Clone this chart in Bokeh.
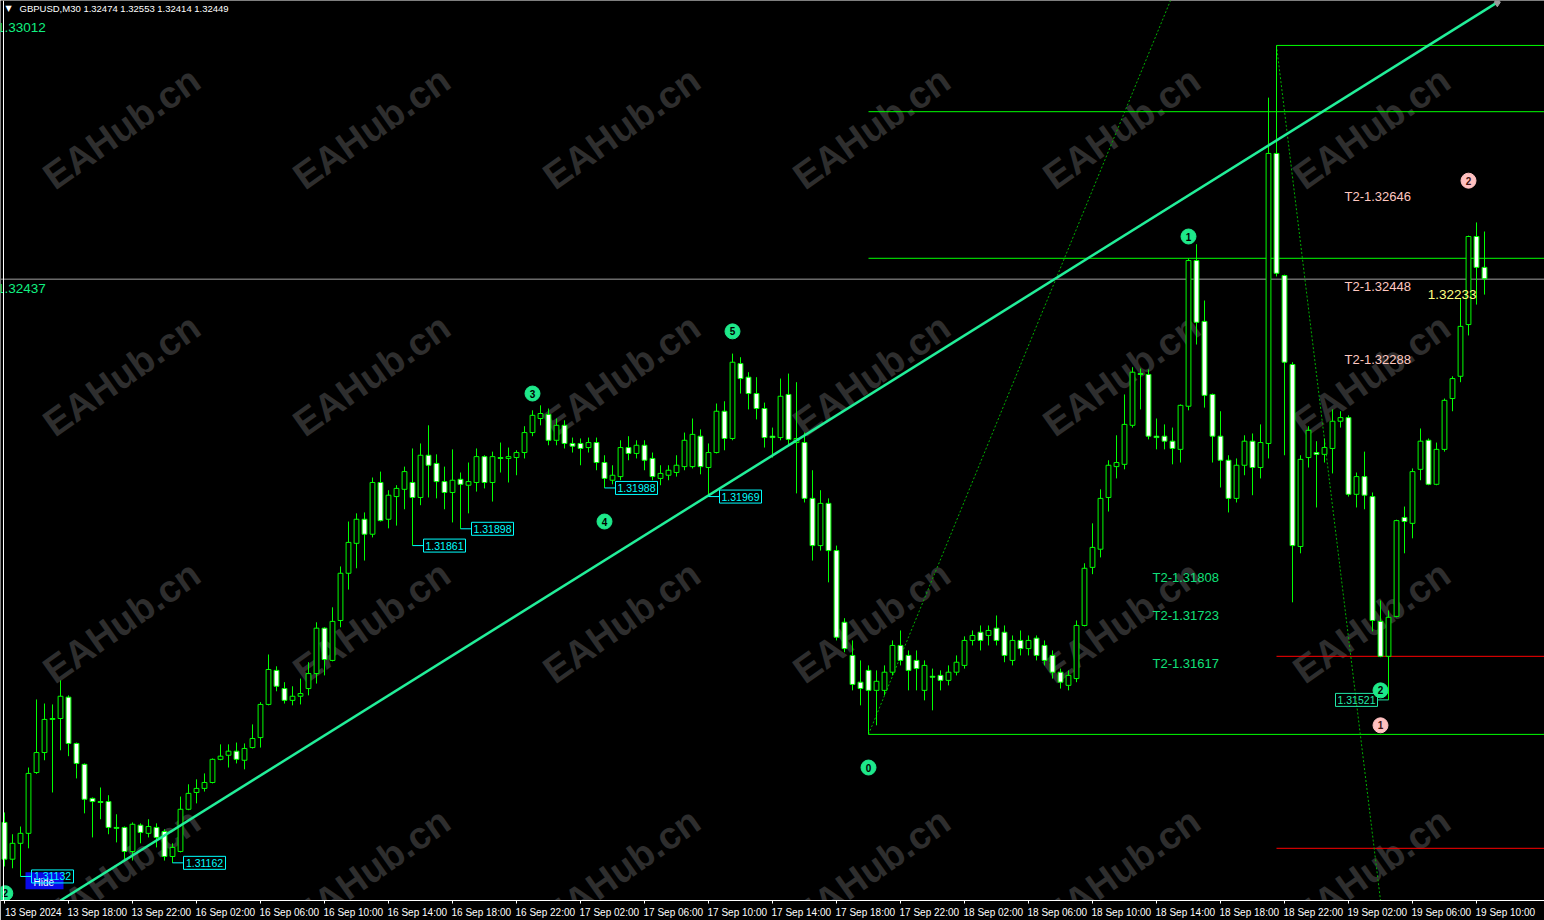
import numpy as np
from bokeh.plotting import figure
from bokeh.models import Range1d, FixedTicker, Span
from bokeh.core.properties import value
from bokeh.embed import file_html
from bokeh.resources import INLINE

# ---------------- data (GBPUSD M30) ----------------
opens = [1.31251, 1.31170, 1.31205, 1.31227, 1.31361, 1.31405, 1.31478, 1.31480, 1.31527, 1.31425,
         1.31379, 1.31304, 1.31297, 1.31297, 1.31240, 1.31240, 1.31187, 1.31245, 1.31227, 1.31240,
         1.31231, 1.31176, 1.31187, 1.31280, 1.31317, 1.31326, 1.31339, 1.31390, 1.31399, 1.31408,
         1.31388, 1.31416, 1.31438, 1.31511, 1.31586, 1.31546, 1.31520, 1.31529, 1.31546, 1.31579,
         1.31679, 1.31608, 1.31696, 1.31800, 1.31866, 1.31919, 1.31886, 1.32000, 1.31919, 1.31969,
         1.31985, 1.32000, 1.31967, 1.32060, 1.32042, 1.32002, 1.31978, 1.32007, 1.31994, 1.32000,
         1.32057, 1.32000, 1.32055, 1.32053, 1.32055, 1.32066, 1.32110, 1.32141, 1.32150, 1.32093,
         1.32126, 1.32086, 1.32086, 1.32077, 1.32088, 1.32044, 1.32005, 1.32013, 1.32077, 1.32064,
         1.32082, 1.32053, 1.32009, 1.32016, 1.32022, 1.32035, 1.32035, 1.32102, 1.32033, 1.32066,
         1.32157, 1.32097, 1.32262, 1.32232, 1.32196, 1.32163, 1.32102, 1.32099, 1.32194, 1.32088,
         1.32088, 1.31965, 1.31861, 1.31954, 1.31850, 1.31692, 1.31619, 1.31560, 1.31586, 1.31542,
         1.31542, 1.31582, 1.31641, 1.31619, 1.31608, 1.31542, 1.31573, 1.31575, 1.31564, 1.31582,
         1.31597, 1.31652, 1.31670, 1.31663, 1.31679, 1.31670, 1.31608, 1.31652, 1.31634, 1.31657,
         1.31641, 1.31619, 1.31582, 1.31553, 1.31568, 1.31685, 1.31813, 1.31853, 1.31967, 1.32035,
         1.32040, 1.32126, 1.32240, 1.32238, 1.32102, 1.32102, 1.32091, 1.32073, 1.32168, 1.32489,
         1.32355, 1.32194, 1.32102, 1.32049, 1.31965, 1.32038, 1.32091, 1.32033, 1.32086, 1.32725,
         1.32456, 1.32260, 1.31859, 1.32055, 1.32066, 1.32062, 1.32075, 1.32135, 1.32143, 1.31974,
         1.32013, 1.31969, 1.31694, 1.31617, 1.31705, 1.31923, 1.31910, 1.32029, 1.32093, 1.31996,
         1.32073, 1.32185, 1.32234, 1.32348, 1.32542, 1.32474]

highs = [1.31273, 1.31225, 1.31242, 1.31372, 1.31522, 1.31513, 1.31511, 1.31564, 1.31531, 1.31427,
         1.31381, 1.31306, 1.31328, 1.31311, 1.31269, 1.31242, 1.31251, 1.31249, 1.31258, 1.31249,
         1.31236, 1.31205, 1.31308, 1.31335, 1.31346, 1.31359, 1.31392, 1.31423, 1.31423, 1.31427,
         1.31425, 1.31467, 1.31516, 1.31621, 1.31595, 1.31560, 1.31551, 1.31568, 1.31604, 1.31692,
         1.31681, 1.31725, 1.31815, 1.31914, 1.31932, 1.31934, 1.32011, 1.32024, 1.31983, 1.31994,
         1.32035, 1.32075, 1.32086, 1.32126, 1.32062, 1.32035, 1.32073, 1.32022, 1.32044, 1.32075,
         1.32060, 1.32068, 1.32088, 1.32077, 1.32071, 1.32124, 1.32159, 1.32170, 1.32163, 1.32141,
         1.32137, 1.32099, 1.32097, 1.32099, 1.32099, 1.32060, 1.32038, 1.32093, 1.32102, 1.32093,
         1.32093, 1.32066, 1.32038, 1.32038, 1.32060, 1.32110, 1.32141, 1.32117, 1.32086, 1.32174,
         1.32179, 1.32284, 1.32276, 1.32243, 1.32232, 1.32176, 1.32121, 1.32229, 1.32240, 1.32221,
         1.32110, 1.32027, 1.31983, 1.31965, 1.31861, 1.31701, 1.31652, 1.31608, 1.31597, 1.31586,
         1.31597, 1.31652, 1.31674, 1.31630, 1.31630, 1.31608, 1.31590, 1.31586, 1.31597, 1.31619,
         1.31661, 1.31674, 1.31685, 1.31685, 1.31707, 1.31685, 1.31663, 1.31674, 1.31663, 1.31663,
         1.31652, 1.31630, 1.31590, 1.31586, 1.31696, 1.31822, 1.31910, 1.31985, 1.32049, 1.32104,
         1.32194, 1.32254, 1.32251, 1.32249, 1.32141, 1.32128, 1.32121, 1.32172, 1.32494, 1.32525,
         1.32401, 1.32196, 1.32157, 1.32060, 1.32053, 1.32104, 1.32108, 1.32128, 1.32848, 1.32963,
         1.32458, 1.32265, 1.32060, 1.32124, 1.32091, 1.32097, 1.32161, 1.32157, 1.32148, 1.32022,
         1.32068, 1.31978, 1.31740, 1.31718, 1.31918, 1.31947, 1.32031, 1.32119, 1.32097, 1.32088,
         1.32185, 1.32234, 1.32406, 1.32544, 1.32573, 1.32553]

lows = [1.31154, 1.31150, 1.31132, 1.31194, 1.31358, 1.31388, 1.31317, 1.31410, 1.31397, 1.31348,
        1.31271, 1.31218, 1.31258, 1.31225, 1.31207, 1.31165, 1.31167, 1.31205, 1.31218, 1.31196,
        1.31167, 1.31162, 1.31185, 1.31278, 1.31293, 1.31319, 1.31337, 1.31388, 1.31372, 1.31381,
        1.31368, 1.31414, 1.31416, 1.31509, 1.31540, 1.31513, 1.31509, 1.31511, 1.31531, 1.31557,
        1.31575, 1.31606, 1.31681, 1.31764, 1.31811, 1.31828, 1.31879, 1.31914, 1.31899, 1.31905,
        1.31941, 1.31861, 1.31950, 1.31967, 1.31965, 1.31941, 1.31912, 1.31898, 1.31932, 1.31980,
        1.31987, 1.31958, 1.32022, 1.32000, 1.32016, 1.32053, 1.32102, 1.32126, 1.32082, 1.32082,
        1.32075, 1.32066, 1.32038, 1.32066, 1.32027, 1.31988, 1.31996, 1.32005, 1.32049, 1.32053,
        1.32027, 1.32005, 1.31994, 1.32005, 1.32013, 1.32027, 1.32031, 1.32018, 1.31969, 1.32064,
        1.32071, 1.32093, 1.32196, 1.32161, 1.32139, 1.32077, 1.32055, 1.32093, 1.32082, 1.31976,
        1.31956, 1.31828, 1.31850, 1.31780, 1.31652, 1.31626, 1.31542, 1.31509, 1.31445, 1.31465,
        1.31531, 1.31575, 1.31597, 1.31542, 1.31542, 1.31520, 1.31498, 1.31542, 1.31553, 1.31575,
        1.31590, 1.31641, 1.31630, 1.31641, 1.31641, 1.31604, 1.31597, 1.31619, 1.31619, 1.31608,
        1.31597, 1.31568, 1.31546, 1.31542, 1.31560, 1.31683, 1.31798, 1.31835, 1.31936, 1.32009,
        1.32029, 1.32121, 1.32161, 1.32095, 1.32073, 1.32073, 1.32040, 1.32044, 1.32159, 1.32304,
        1.32165, 1.32044, 1.31989, 1.31934, 1.31956, 1.32016, 1.31972, 1.32009, 1.32053, 1.32454,
        1.32060, 1.31736, 1.31844, 1.32033, 1.31945, 1.32044, 1.32020, 1.32121, 1.31969, 1.31945,
        1.31941, 1.31672, 1.31615, 1.31521, 1.31703, 1.31844, 1.31877, 1.32005, 1.31994, 1.31994,
        1.32068, 1.32157, 1.32221, 1.32324, 1.32392, 1.32414]

closes = [1.31170, 1.31205, 1.31227, 1.31359, 1.31405, 1.31478, 1.31480, 1.31529, 1.31425, 1.31381,
          1.31302, 1.31297, 1.31295, 1.31240, 1.31238, 1.31187, 1.31247, 1.31229, 1.31242, 1.31218,
          1.31176, 1.31196, 1.31280, 1.31315, 1.31326, 1.31339, 1.31390, 1.31397, 1.31408, 1.31390,
          1.31414, 1.31436, 1.31511, 1.31588, 1.31551, 1.31520, 1.31529, 1.31535, 1.31579, 1.31679,
          1.31610, 1.31694, 1.31800, 1.31868, 1.31919, 1.31886, 1.32000, 1.31916, 1.31972, 1.31987,
          1.32024, 1.31967, 1.32060, 1.32038, 1.32002, 1.31978, 1.32005, 1.31996, 1.32002, 1.32057,
          1.32000, 1.32057, 1.32053, 1.32057, 1.32066, 1.32110, 1.32148, 1.32152, 1.32093, 1.32126,
          1.32086, 1.32080, 1.32075, 1.32088, 1.32044, 1.32009, 1.32016, 1.32077, 1.32064, 1.32082,
          1.32049, 1.32013, 1.32020, 1.32027, 1.32038, 1.32093, 1.32106, 1.32035, 1.32066, 1.32157,
          1.32097, 1.32265, 1.32229, 1.32196, 1.32163, 1.32099, 1.32099, 1.32190, 1.32095, 1.32097,
          1.31965, 1.31861, 1.31954, 1.31850, 1.31659, 1.31634, 1.31555, 1.31546, 1.31542, 1.31562,
          1.31582, 1.31641, 1.31608, 1.31586, 1.31590, 1.31597, 1.31571, 1.31564, 1.31582, 1.31604,
          1.31652, 1.31663, 1.31652, 1.31674, 1.31652, 1.31619, 1.31652, 1.31634, 1.31652, 1.31619,
          1.31608, 1.31582, 1.31560, 1.31575, 1.31685, 1.31811, 1.31857, 1.31965, 1.32038, 1.32044,
          1.32128, 1.32243, 1.32238, 1.32102, 1.32099, 1.32091, 1.32075, 1.32170, 1.32489, 1.32353,
          1.32192, 1.32102, 1.32049, 1.31965, 1.32038, 1.32091, 1.32033, 1.32088, 1.32725, 1.32461,
          1.32265, 1.31861, 1.32051, 1.32115, 1.32062, 1.32077, 1.32135, 1.32143, 1.31974, 1.32013,
          1.31972, 1.31696, 1.31617, 1.31703, 1.31916, 1.31914, 1.32024, 1.32091, 1.31996, 1.32073,
          1.32181, 1.32229, 1.32344, 1.32542, 1.32474, 1.32449]

tick_bars = [0, 8, 16, 24, 32, 40, 48, 56, 64, 72, 80, 88, 96, 104, 112, 120, 128, 136,
             144, 152, 160, 168, 176, 184]
tick_labels = ["13 Sep 2024", "13 Sep 18:00", "13 Sep 22:00", "16 Sep 02:00", "16 Sep 06:00",
               "16 Sep 10:00", "16 Sep 14:00", "16 Sep 18:00", "16 Sep 22:00", "17 Sep 02:00",
               "17 Sep 06:00", "17 Sep 10:00", "17 Sep 14:00", "17 Sep 18:00", "17 Sep 22:00",
               "18 Sep 02:00", "18 Sep 06:00", "18 Sep 10:00", "18 Sep 14:00", "18 Sep 18:00",
               "18 Sep 22:00", "19 Sep 02:00", "19 Sep 06:00", "19 Sep 10:00"]

# swing-low/high price tags: bar, price, side (+1 right, -1 left)
tag_bars = [2, 21, 51, 57, 75, 88, 173]
tag_prices = [1.31132, 1.31162, 1.31861, 1.31898, 1.31988, 1.31969, 1.31521]
tag_sides = [1, 1, 1, 1, 1, 1, -1]

# wave markers
wave_bars = [108, 148, 172, 66, 75, 91, 0.1]
wave_prices = [1.31372, 1.32542, 1.31542, 1.32196, 1.31914, 1.32333, 1.31095]
wave_text = ["0", "1", "2", "3", "4", "5", "2"]
pink_bars = [172, 183]
pink_prices = [1.31465, 1.32665]
pink_text = ["1", "2"]

# target labels
t2_pink_prices = [1.32646, 1.32448, 1.32288]
t2_green_prices = [1.31808, 1.31723, 1.31617]

# lines
trend_bars = [7, 186.6]
trend_prices = [1.31079, 1.33058]
dot1_bars = [108, 145.75]
dot1_prices = [1.31445, 1.33062]
dot2_bars = [159, 172]
dot2_prices = [1.32963, 1.31079]
green_levels = [1.32963, 1.32817, 1.32494, 1.31445]
green_starts = [159, 108, 108, 108]
red_levels = [1.31617, 1.31194]
red_starts = [159, 159]
gray_level = 1.32448

# ---------------- helpers (reference pixel -> data, for decorations) ----------------
def fx(px):
    return (px - 4) / 8.0

def fy(py):
    return 1.33062 - py * 0.00002203

o = np.array(opens); h = np.array(highs); l = np.array(lows); c = np.array(closes)
n = len(o)
x = np.arange(n)
bull = c >= o

X0, X1 = -0.5, 192.5
p = figure(width=1544, height=920, output_backend="svg", toolbar_location=None,
           x_range=Range1d(X0, X1), y_range=Range1d(1.31079, 1.33062),
           background_fill_color="black", border_fill_color="black",
           min_border_left=0, min_border_right=0, min_border_top=0, min_border_bottom=0)
p.grid.visible = False
p.yaxis.visible = False
p.outline_line_color = None

# x axis: labels to the right of each tick (MT4 style)
off = 3.6
xa = p.xaxis[0]
xa.ticker = FixedTicker(ticks=[b + off for b in tick_bars], minor_ticks=tick_bars)
xa.major_label_overrides = {b + off: t for b, t in zip(tick_bars, tick_labels)}
xa.axis_line_color = "white"
xa.major_tick_line_color = None
xa.major_tick_out = 2
xa.major_tick_in = 0
xa.minor_tick_line_color = "white"
xa.minor_tick_out = 3
xa.minor_tick_in = 0
xa.major_label_text_color = "white"
xa.major_label_text_font = "Liberation Sans"
xa.major_label_text_font_size = "10px"
xa.major_label_standoff = 3

p.add_layout(Span(location=fx(3), dimension="height", line_color="white", line_width=1))

# watermark
wm_x, wm_y = [], []
for col in range(6):
    for row in range(4):
        wm_x.append(fx(47 + 250 * col))
        wm_y.append(fy(180 + 247 * row))
p.text(wm_x, wm_y, text=["EAHub.cn"] * len(wm_x), angle=0.615,
       text_font=value("Liberation Sans"), text_font_style="bold",
       text_font_size=value("38px"), text_color="#2e2e2e", text_baseline="alphabetic",
       text_align="left")

# horizontal levels
p.segment(x0=[X0], y0=[gray_level], x1=[X1], y1=[gray_level], line_color="#a0a0a0", line_width=1)
p.segment(x0=green_starts, y0=green_levels, x1=[X1] * len(green_levels), y1=green_levels,
          line_color="#00ff00", line_width=1)
p.segment(x0=red_starts, y0=red_levels, x1=[X1] * len(red_levels), y1=red_levels,
          line_color="#ff0000", line_width=1)

# dotted lines
p.line(dot1_bars, dot1_prices, line_color="#00b000", line_width=1, line_dash="2 2")
p.line(dot2_bars, dot2_prices, line_color="#00b000", line_width=1, line_dash="2 2")

# candles
p.segment(x0=x, y0=h, x1=x, y1=l, line_color="#00ff00", line_width=1)
top = np.maximum(o, c); bot = np.minimum(o, c)
p.vbar(x=x[bull], top=top[bull], bottom=bot[bull], width=0.6,
       fill_color="black", line_color="#00ff00", line_width=1)
p.vbar(x=x[~bull], top=top[~bull], bottom=bot[~bull], width=0.6,
       fill_color="white", line_color="#00ff00", line_width=1)

# trend line
p.line(trend_bars, trend_prices, line_color="#22ee99", line_width=2.5)
p.scatter([trend_bars[1]], [trend_prices[1]], marker="diamond", size=9,
          fill_color="#9a9a9a", line_color="#9a9a9a")

# Hide button
p.quad(left=[fx(25)], right=[fx(63)], top=[fy(872)], bottom=[fy(889)],
       fill_color="#0a0ae8", line_color=None)
p.text([fx(33)], [fy(882)], text=["Hide"], text_color="white",
       text_font=value("Liberation Sans"), text_font_size=value("10px"), text_baseline="middle")

# price tags
for b, pr, s in zip(tag_bars, tag_prices, tag_sides):
    col = "#00ffff" if s > 0 else "#22e8a8"
    edge = b + s * 11 / 8.0
    cx = b + s * 32 / 8.0
    p.segment(x0=[b], y0=[pr], x1=[edge], y1=[pr], line_color=col, line_width=1)
    p.rect(x=[cx], y=[pr], width=42, height=13, width_units="screen", height_units="screen",
           fill_alpha=0, line_color=col, line_width=1)
    p.text([cx], [pr], text=["%.5f" % pr], text_color=col, text_align="center",
           text_baseline="middle", text_font=value("Liberation Sans"),
           text_font_size=value("10.5px"))

# wave markers
p.scatter(wave_bars, wave_prices, size=15, fill_color="#1ee88a", line_color="#1ee88a")
p.text(wave_bars, wave_prices, text=wave_text, text_color="black", text_align="center",
       text_baseline="middle", text_font=value("Liberation Sans"), text_font_style="bold",
       text_font_size=value("10px"))
p.scatter(pink_bars, pink_prices, size=15, fill_color="#ffc0c0", line_color="#ffc0c0")
p.text(pink_bars, pink_prices, text=pink_text, text_color="#401010", text_align="center",
       text_baseline="middle", text_font=value("Liberation Sans"), text_font_style="bold",
       text_font_size=value("10px"))

# target texts
p.text([167.5] * 3, t2_pink_prices, text=["T2-%.5f" % v for v in t2_pink_prices],
       text_color="#ffc8c0", text_baseline="top", text_font=value("Liberation Sans"),
       text_font_size=value("13px"))
p.text([143.5] * 3, t2_green_prices, text=["T2-%.5f" % v for v in t2_green_prices],
       text_color="#10e07a", text_baseline="top", text_font=value("Liberation Sans"),
       text_font_size=value("13px"))
p.text([177.9], [1.32425], text=["1.32233"], text_color="#ffff80", text_baseline="top",
       text_font=value("Liberation Sans"), text_font_size=value("13.5px"))

# left edge level labels (partly cut off by the window edge)
p.text([-0.93, -0.93], [1.33012, 1.32437], text=["1.33012", "1.32437"], text_color="#10f080",
       text_baseline="top", text_font=value("Liberation Sans"), text_font_size=value("13.5px"))

# header
p.text([fx(5)], [fy(8)], text=["\u25bc"], text_color="white", text_baseline="middle",
       text_font=value("DejaVu Sans"), text_font_size=value("8px"))
p.text([fx(19)], [fy(8)], text=["GBPUSD,M30  1.32474 1.32553 1.32414 1.32449"],
       text_color="white", text_baseline="middle", text_font=value("Liberation Sans"),
       text_font_size=value("9.5px"))

open("out.html", "w").write(file_html(p, INLINE))
